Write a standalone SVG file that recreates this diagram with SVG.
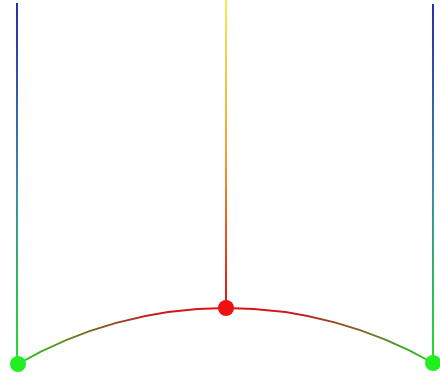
<svg xmlns="http://www.w3.org/2000/svg" width="440" height="379" viewBox="0 0 440 379">
<style>
.ln{fill:none;stroke-width:2}
</style>
<defs>
<linearGradient id="gSide" gradientUnits="userSpaceOnUse" x1="0" y1="0" x2="0" y2="364">
<stop offset="0" stop-color="#2a2aa8"/>
<stop offset="0.5" stop-color="#3a8ab0"/>
<stop offset="1" stop-color="#22e022"/>
</linearGradient>
<linearGradient id="gMid" gradientUnits="userSpaceOnUse" x1="0" y1="0" x2="0" y2="308">
<stop offset="0" stop-color="#f4ee50"/>
<stop offset="0.5" stop-color="#f0a030"/>
<stop offset="1" stop-color="#e01010"/>
</linearGradient>
<linearGradient id="gArc" gradientUnits="userSpaceOnUse" x1="18" y1="0" x2="433" y2="0">
<stop offset="0" stop-color="#20d020"/>
<stop offset="0.15" stop-color="#707020"/>
<stop offset="0.32" stop-color="#c02020"/>
<stop offset="0.5" stop-color="#e01010"/>
<stop offset="0.68" stop-color="#c02020"/>
<stop offset="0.85" stop-color="#707020"/>
<stop offset="1" stop-color="#20d020"/>
</linearGradient>
</defs>
<g id="connectors">
<line class="ln" x1="17" y1="3" x2="17" y2="364" stroke="url(#gSide)"/>
<line class="ln" x1="433" y1="4" x2="433" y2="363" stroke="url(#gSide)"/>
<line class="ln" x1="226" y1="0" x2="226" y2="308" stroke="url(#gMid)"/>
<path class="ln" d="M18 364 A416 416 0 0 1 433 363" stroke="url(#gArc)"/>
</g>
<g id="node-left"><circle cx="18" cy="364" r="8" fill="#22ee22"/></g>
<g id="node-mid"><circle cx="226" cy="308" r="8" fill="#ee1111"/></g>
<g id="node-right"><circle cx="433" cy="363" r="8" fill="#22ee22"/></g>
</svg>
